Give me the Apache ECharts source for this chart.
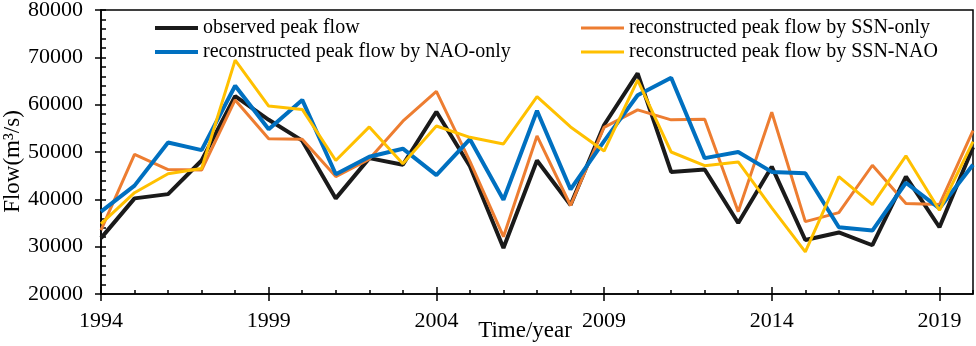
<!DOCTYPE html>
<html>
<head>
<meta charset="utf-8">
<script src="https://cdn.jsdelivr.net/npm/echarts@6/dist/echarts.min.js"></script>
<style>
  html, body { margin: 0; padding: 0; background: #fff; }
  #chart { width: 976px; height: 346px; }
</style>
</head>
<body>
<div id="chart"></div>
<script>
const years = ['1994', '1995', '1996', '1997', '1998', '1999', '2000', '2001', '2002', '2003',
  '2004', '2005', '2006', '2007', '2008', '2009', '2010', '2011', '2012', '2013',
  '2014', '2015', '2016', '2017', '2018', '2019', '2020']
const observed = [31800, 40200, 41100, 48200, 61800, 56800, 52400, 40200, 48700, 47300,
  58500, 47000, 29700, 48200, 38800, 55700, 66600, 45800, 46300, 35000,
  46900, 31400, 33000, 30300, 44800, 34100, 51000]
const ssnOnly = [33500, 49500, 46300, 46200, 61000, 52800, 52700, 44800, 48500, 56500,
  62800, 48000, 32100, 53400, 38700, 55200, 58900, 56800, 56900, 37400,
  58400, 35300, 37200, 47200, 39100, 38900, 54500]
const naoOnly = [37400, 42900, 52000, 50400, 64000, 54800, 61000, 45300, 49000, 50700,
  45100, 52700, 39900, 58700, 42100, 52300, 62000, 65700, 48700, 50000,
  45800, 45500, 34100, 33400, 43500, 38100, 47300]
const ssnNao = [34800, 41400, 45400, 46500, 69400, 59700, 59000, 48200, 55300, 47500,
  55500, 53100, 51700, 61700, 55300, 50200, 65200, 50000, 47100, 47900,
  38200, 28900, 44800, 38900, 49200, 37700, 52200]
const yTicks = [20000, 80000, 10000] // min, max, step

const font = 'Liberation Serif'
const names = ['observed peak flow', 'reconstructed peak flow by SSN-only',
  'reconstructed peak flow by NAO-only', 'reconstructed peak flow by SSN-NAO']
const colors = ['#1a1a1a', '#ED7D31', '#0070C0', '#FFC000']
const widths = [4, 3, 4, 3]
const values = [observed, ssnOnly, naoOnly, ssnNao]

const chart = echarts.init(document.getElementById('chart'))

const xBase = {
  type: 'category', data: years, boundaryGap: false, position: 'bottom',
  splitLine: { show: false }
}
const yBase = {
  type: 'value', min: yTicks[0], max: yTicks[1], interval: yTicks[2], position: 'left',
  splitLine: { show: false }
}
const legendText = { fontFamily: font, fontSize: 20, lineHeight: 24, color: '#000' }

const option = {
  animation: false,
  grid: {
    left: 101, right: 3, top: 10, bottom: 52,
    outerBoundsMode: 'none',
    show: true, borderColor: '#000', borderWidth: 1.5
  },
  legend: [
    {
      left: 155, top: 16, padding: 0, orient: 'vertical', icon: 'rect',
      itemWidth: 43, itemHeight: 4, itemGap: 0,
      data: [names[0], names[2]],
      textStyle: legendText
    },
    {
      left: 581, top: 16, padding: 0, orient: 'vertical', icon: 'rect',
      itemWidth: 43, itemHeight: 3, itemGap: 0,
      data: [names[1], names[3]],
      textStyle: legendText
    }
  ],
  xAxis: [
    Object.assign({}, xBase, {
      axisLine: { lineStyle: { color: '#000', width: 1.5 } },
      axisTick: { inside: false, length: 7, interval: 4, lineStyle: { color: '#000', width: 1.5 } },
      axisLabel: { interval: 4, margin: 16, fontFamily: font, fontSize: 22, color: '#000' },
      name: 'Time/year', nameLocation: 'middle', nameGap: 25, nameMoveOverlap: false,
      nameTextStyle: { fontFamily: font, fontSize: 23, color: '#000', padding: [0, 24, 0, 0] }
    }),
    Object.assign({}, xBase, {
      axisLine: { show: false },
      axisTick: { inside: true, length: 7, interval: 4, lineStyle: { color: '#000', width: 1.5 } },
      axisLabel: { show: false }
    }),
    Object.assign({}, xBase, {
      axisLine: { show: false },
      axisTick: { inside: true, length: 4, interval: 0, lineStyle: { color: '#000', width: 1.5 } },
      axisLabel: { show: false }
    })
  ],
  yAxis: [
    Object.assign({}, yBase, {
      axisLine: { show: true, lineStyle: { color: '#000', width: 1.5 } },
      axisTick: { show: true, inside: false, length: 6, lineStyle: { color: '#000', width: 1.5 } },
      axisLabel: { margin: 18, fontFamily: font, fontSize: 22, color: '#000', formatter: v => String(v) },
      name: 'Flow(m³/s)', nameLocation: 'middle', nameGap: 77, nameMoveOverlap: false,
      nameTextStyle: { fontFamily: font, fontSize: 23, color: '#000', padding: [0, 19, 0, 0] }
    }),
    Object.assign({}, yBase, {
      axisLine: { show: false },
      axisTick: { show: true, inside: true, length: 5, lineStyle: { color: '#000', width: 1.5 } },
      minorTick: { show: true, splitNumber: 5, length: 5, lineStyle: { color: '#000', width: 1.5 } },
      axisLabel: { show: false }
    })
  ],
  series: names.map((n, i) => ({
    name: n,
    type: 'line',
    xAxisIndex: 0,
    yAxisIndex: 0,
    data: values[i],
    symbol: 'none',
    color: colors[i],
    lineStyle: { color: colors[i], width: widths[i] }
  }))
}

chart.setOption(option)
</script>
</body>
</html>
